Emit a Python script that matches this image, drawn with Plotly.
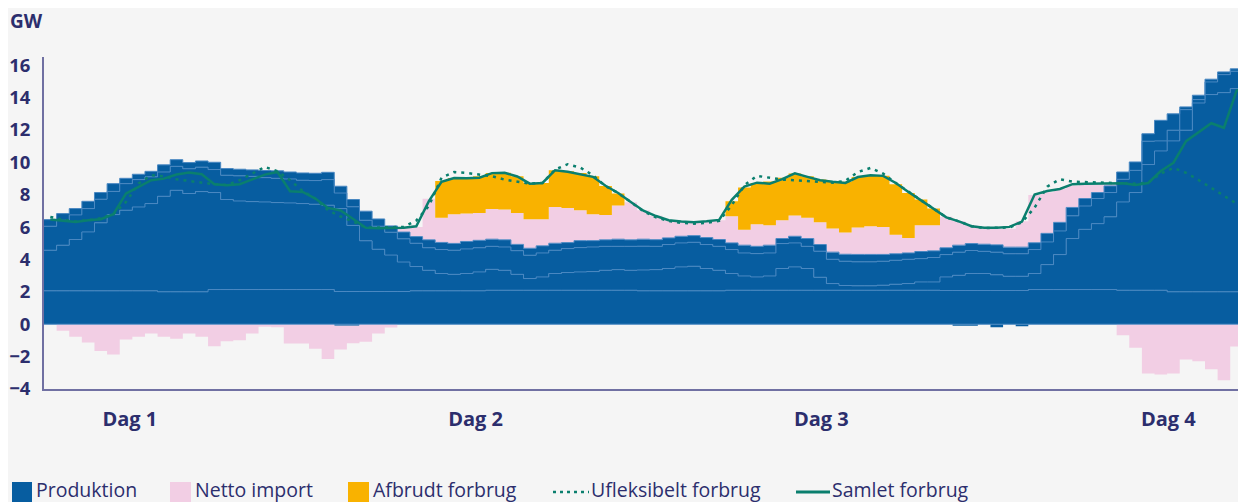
import numpy as np
import plotly.graph_objects as go

# ---------------- data (GW, one value per hour, 4 days) ----------------
day_labels = ["Dag 1", "Dag 2", "Dag 3", "Dag 4"]
day_label_pos = [6.8, 34.2, 61.6, 89.1]  # hour position of the day labels

# production: boundaries of the stacked sub-layers
prod_base = [2.06]*9 + [2.0]*4 + [2.14]*10 + [2.02]*6 + [2.06]*6 + [2.1]*12 + [2.06]*7 + [2.1]*17 + [2.08]*7 + [2.14]*7 + [2.1]*4 + [2.0]*7
prod_mid = [4.57, 4.88, 5.23, 5.7, 6.26, 6.77, 7.04, 7.24, 7.45, 7.9, 8.27, 8.07, 8.19, 8.13, 7.7, 7.61, 7.57, 7.55, 7.51, 7.49, 7.45, 7.41, 7.35, 7.14,
            6.1, 5.15, 4.63, 4.27, 3.84, 3.56, 3.33, 3.13, 3.08, 3.13, 3.23, 3.39, 3.33, 3.08, 2.82, 2.92, 3.13, 3.19, 3.23, 3.25, 3.33, 3.37, 3.33, 3.35,
            3.37, 3.44, 3.54, 3.58, 3.44, 3.33, 3.13, 2.98, 2.92, 2.98, 3.44, 3.54, 3.44, 2.9, 2.51, 2.39, 2.37, 2.37, 2.41, 2.47, 2.51, 2.61, 2.61, 2.92,
            3.02, 3.13, 3.13, 3.05, 2.96, 2.96, 3.13, 3.68, 4.3, 5.29, 5.86, 6.21, 6.63, 7.55, 8.13, 9.86, 10.7, 11.32, 11.98, 13.66, 14.18, 14.3, 14.55, 14.55]
prod_second = [6.05, 6.42, 6.75, 7.14, 7.72, 8.2, 8.68, 8.93, 9.1, 9.4, 9.75, 9.6, 9.7, 9.55, 9.2, 9.16, 9.13, 9.05, 9.01, 8.97, 8.89, 8.87, 8.93, 8.1,
               7.25, 6.42, 6.05, 5.68, 5.27, 5.0, 4.72, 4.61, 4.57, 4.65, 4.72, 4.81, 4.77, 4.54, 4.26, 4.4, 4.57, 4.67, 4.73, 4.77, 4.81, 4.81, 4.81, 4.82,
               4.81, 4.92, 5.02, 5.06, 4.92, 4.81, 4.61, 4.4, 4.36, 4.4, 4.98, 5.02, 4.81, 4.51, 4.01, 3.89, 3.85, 3.85, 3.89, 3.95, 4.01, 4.05, 4.12, 4.3,
               4.45, 4.55, 4.5, 4.45, 4.35, 4.35, 4.61, 5.08, 5.76, 6.69, 7.3, 7.76, 8.13, 8.95, 9.5, 11.3, 11.32, 11.98, 13.25, 13.87, 14.96, 15.41, 15.62, 15.64]
prod_total = [6.46, 6.83, 7.14, 7.59, 8.13, 8.68, 9.01, 9.26, 9.44, 9.84, 10.16, 9.98, 10.08, 10.0, 9.61, 9.57, 9.53, 9.49, 9.47, 9.4, 9.34, 9.32, 9.38, 8.52,
              7.7, 6.98, 6.5, 6.07, 5.69, 5.41, 5.21, 5.05, 4.99, 5.11, 5.18, 5.25, 5.21, 4.93, 4.69, 4.84, 5.0, 5.04, 5.16, 5.16, 5.21, 5.25, 5.21, 5.25,
              5.22, 5.33, 5.43, 5.47, 5.35, 5.23, 5.02, 4.88, 4.81, 4.88, 5.29, 5.43, 5.29, 4.92, 4.45, 4.32, 4.31, 4.31, 4.31, 4.35, 4.4, 4.49, 4.53, 4.72,
              4.88, 4.98, 4.94, 4.9, 4.76, 4.76, 5.03, 5.61, 6.29, 7.21, 7.76, 8.13, 8.54, 9.4, 10.02, 11.76, 12.59, 12.99, 13.42, 14.14, 15.13, 15.58, 15.77, 15.78]
# small negative production
prod_negative = [0]*23 + [-0.1, -0.1] + [0]*47 + [-0.1, -0.1, 0, -0.18, 0, -0.12] + [0]*18

net_import = [0, -0.41, -0.78, -1.13, -1.65, -1.87, -0.95, -0.78, -0.58, -0.78, -0.9, -0.58, -0.78, -1.36, -1.05, -0.99, -0.58, -0.16, -0.19, -1.19, -1.19, -1.52, -2.14, -1.46,
              -1.07, -1.09, -0.58, -0.2, 0.25, 0.6, 2.53, 1.53, 1.8, 1.72, 1.69, 1.87, 1.87, 1.94, 1.79, 1.64, 2.24, 2.14, 1.88, 1.63, 1.54, 2.08, 2.32, 1.79,
              1.48, 1.09, 0.93, 0.83, 1.01, 1.19, 1.65, 0.96, 1.36, 1.23, 1.13, 1.28, 1.29, 1.38, 1.46, 1.34, 1.66, 1.74, 1.7, 1.18, 0.93, 1.62, 1.58, 1.91,
              1.49, 1.12, 1.03, 1.0, 1.14, 1.6, 2.95, 2.54, 2.06, 1.34, 0.94, 0.57, 0.14, -0.68, -1.46, -3.05, -3.11, -3.05, -2.18, -2.28, -2.78, -3.46, -1.38, -1.0]

afbrudt = [0]*31 + [2.27, 2.24, 2.2, 2.27, 2.22, 2.28, 2.27, 2.24, 2.24, 2.27, 2.26, 2.3, 2.35, 1.79, 0.74] + [0]*8 + \
          [0.92, 2.6, 2.55, 2.7, 2.63, 2.59, 2.56, 2.63, 2.94, 3.13, 3.12, 3.15, 3.15, 3.12, 2.78, 1.59, 1.03] + [0]*25

samlet = [6.46, 6.4, 6.32, 6.42, 6.48, 6.79, 8.07, 8.48, 8.89, 8.99, 9.24, 9.36, 9.26, 8.64, 8.58, 8.64, 8.93, 9.24, 9.4, 8.21, 8.17, 7.76, 7.18, 7.02,
          6.5, 5.95, 5.93, 5.93, 5.95, 6.05, 7.6, 8.79, 9.03, 9.02, 9.05, 9.33, 9.35, 9.12, 8.68, 8.72, 9.51, 9.42, 9.28, 9.1, 8.55, 8.1, 7.55, 7.01,
          6.68, 6.42, 6.35, 6.3, 6.36, 6.44, 7.68, 8.5, 8.74, 8.68, 8.96, 9.32, 9.1, 8.89, 8.79, 8.72, 9.09, 9.2, 9.16, 8.72, 8.17, 7.65, 7.14, 6.6,
          6.35, 6.05, 5.96, 5.96, 6.01, 6.34, 8.01, 8.23, 8.35, 8.65, 8.68, 8.7, 8.7, 8.71, 8.6, 8.72, 9.46, 9.97, 11.3, 11.85, 12.41, 12.13, 14.41, 14.75]

ufleksibelt = [6.63, 6.45, 6.35, 6.42, 6.55, 6.8, 7.55, 8.69, 9.2, 9.14, 8.95, 8.85, 8.74, 8.64, 8.6, 8.89, 9.3, 9.71, 9.44, 8.89, 8.23, 7.76, 7.04, 6.65,
               6.34, 5.97, 5.97, 5.97, 6.01, 6.4, 7.3, 9.05, 9.4, 9.34, 9.24, 9.14, 8.93, 8.79, 8.68, 8.72, 9.55, 9.88, 9.67, 9.2, 8.52, 8.1, 7.55, 6.98,
               6.6, 6.38, 6.26, 6.21, 6.26, 6.38, 7.35, 8.58, 9.16, 9.05, 8.93, 8.89, 8.83, 8.79, 8.74, 8.85, 9.4, 9.65, 9.3, 8.72, 8.17, 7.65, 7.14, 6.6,
               6.35, 6.05, 5.94, 5.94, 5.97, 6.3, 7.2, 8.5, 8.95, 8.8, 8.77, 8.77, 8.75, 8.72, 8.68, 8.75, 9.3, 9.65, 9.35, 8.9, 8.4, 7.95, 7.45, 7.05]

legend_names = ["Produktion", "Netto import", "Afbrudt forbrug", "Ufleksibelt forbrug", "Samlet forbrug"]

# ---------------- styling ----------------
BLUE = "#075DA0"
BLUE_EDGE = "#4A88C2"
PINK = "#F2CEE4"
ORANGE = "#F9B200"
TEAL = "#0A7F6E"
NAVY = "#2C2E6D"
AXIS = "#7070A2"
BG = "#F5F5F5"
FONT = "Open Sans"

# the page body adds an 8px offset; window-pixel layout -> figure margins
OFF = 8
PLOT_L, PLOT_R, PLOT_T, PLOT_B = 44, 1246, 57, 389   # plot area in window pixels
W, H = 1246, 502


def px2paper_x(px):
    return (px - PLOT_L) / (PLOT_R - PLOT_L)


def px2paper_y(py):
    return (PLOT_B - py) / (PLOT_B - PLOT_T)


n = len(prod_total)
edges = np.arange(n + 1)          # hour edges for step areas
centers = np.arange(n) + 0.5      # hour centres for the lines


def ext(a):
    a = np.asarray(a, dtype=float)
    return np.append(a, a[-1])


base = np.asarray(prod_base, float)
mid = np.asarray(prod_mid, float)
sec = np.asarray(prod_second, float)
tot = np.asarray(prod_total, float)
layers = [base, mid - base, sec - mid, tot - sec]
imp = np.asarray(net_import, float)
imp_pos = np.clip(imp, 0, None)
imp_neg = np.clip(imp, None, 0)

fig = go.Figure()

# positive stack
for lay in layers:
    fig.add_trace(go.Scatter(x=edges, y=ext(lay), stackgroup="pos", mode="lines",
                             line=dict(shape="hv", width=1, color=BLUE_EDGE),
                             fillcolor=BLUE, showlegend=False, hoverinfo="skip"))
fig.add_trace(go.Scatter(x=edges, y=ext(imp_pos), stackgroup="pos", mode="lines",
                         line=dict(shape="hv", width=0, color=PINK),
                         fillcolor=PINK, showlegend=False, hoverinfo="skip"))
fig.add_trace(go.Scatter(x=edges, y=ext(afbrudt), stackgroup="pos", mode="lines",
                         line=dict(shape="hv", width=0, color=ORANGE),
                         fillcolor=ORANGE, showlegend=False, hoverinfo="skip"))
# negative stack
fig.add_trace(go.Scatter(x=edges, y=ext(prod_negative), stackgroup="neg", mode="lines",
                         line=dict(shape="hv", width=0, color=BLUE),
                         fillcolor=BLUE, showlegend=False, hoverinfo="skip"))
fig.add_trace(go.Scatter(x=edges, y=ext(imp_neg), stackgroup="neg", mode="lines",
                         line=dict(shape="hv", width=0, color=PINK),
                         fillcolor=PINK, showlegend=False, hoverinfo="skip"))

# demand lines
fig.add_trace(go.Scatter(x=centers, y=ufleksibelt, mode="lines",
                         line=dict(color=TEAL, width=2.5, dash="3px,5px"),
                         showlegend=False, hoverinfo="skip"))
fig.add_trace(go.Scatter(x=centers, y=samlet, mode="lines",
                         line=dict(color=TEAL, width=2.5),
                         showlegend=False, hoverinfo="skip"))

# thin light line at zero
fig.add_shape(type="line", xref="paper", x0=0, x1=1, yref="y", y0=0, y1=0,
              line=dict(color=BLUE_EDGE, width=1), layer="above")

# ---- legend drawn below the chart (window pixel positions) ----
leg_y = 492
txt_y = 489
leg_items = [  # (kind, colour, symbol x0, symbol x1, text x)
    ("box", BLUE, 12, 32, 35),
    ("box", PINK, 170, 191, 194),
    ("box", ORANGE, 348, 369, 372),
    ("dot", TEAL, 553, 589, 590),
    ("line", TEAL, 796, 830, 831),
]
for (kind, col, sx0, sx1, tx), name in zip(leg_items, legend_names):
    if kind == "box":
        fig.add_shape(type="rect", xref="paper", yref="paper",
                      x0=px2paper_x(sx0), x1=px2paper_x(sx1),
                      y0=px2paper_y(leg_y + 10), y1=px2paper_y(leg_y - 10),
                      line=dict(width=0), fillcolor=col)
    else:
        fig.add_shape(type="line", xref="paper", yref="paper",
                      x0=px2paper_x(sx0), x1=px2paper_x(sx1),
                      y0=px2paper_y(leg_y), y1=px2paper_y(leg_y),
                      line=dict(color=col, width=2.5 if kind == "dot" else 3,
                                dash="3px,4px" if kind == "dot" else "solid"))
    fig.add_annotation(text=name, xref="paper", yref="paper",
                       x=px2paper_x(tx), y=px2paper_y(txt_y), xanchor="left", yanchor="middle",
                       showarrow=False, borderpad=0,
                       font=dict(family=FONT, size=19.5, color=NAVY))

fig.add_annotation(text="<b>GW</b>", xref="paper", yref="paper",
                   x=px2paper_x(9), y=px2paper_y(21),
                   xanchor="left", yanchor="middle", showarrow=False, borderpad=0,
                   font=dict(family=FONT, size=19, color=NAVY))

fig.update_layout(
    width=W, height=H,
    margin=dict(l=PLOT_L - OFF, r=W - (PLOT_R - OFF), t=PLOT_T - OFF, b=H - (PLOT_B - OFF),
                autoexpand=False),
    paper_bgcolor=BG, plot_bgcolor=BG,
    font=dict(family=FONT, color=NAVY),
    showlegend=False,
    xaxis=dict(range=[0, 95.25], tickvals=day_label_pos, ticktext=day_labels,
               showgrid=False, zeroline=False, showline=True, linecolor=AXIS, linewidth=2,
               ticks="", ticklabelstandoff=11, automargin=False,
               tickfont=dict(family=FONT, size=20, color=NAVY, weight="bold")),
    yaxis=dict(range=[-4, 16.5], tickvals=list(range(-4, 17, 2)),
               showgrid=False, zeroline=False, showline=True, linecolor=AXIS, linewidth=2,
               ticks="", ticklabelstandoff=8, automargin=False,
               tickfont=dict(family=FONT, size=18.5, color=NAVY, weight="bold")),
)

fig.write_html("out.html")
